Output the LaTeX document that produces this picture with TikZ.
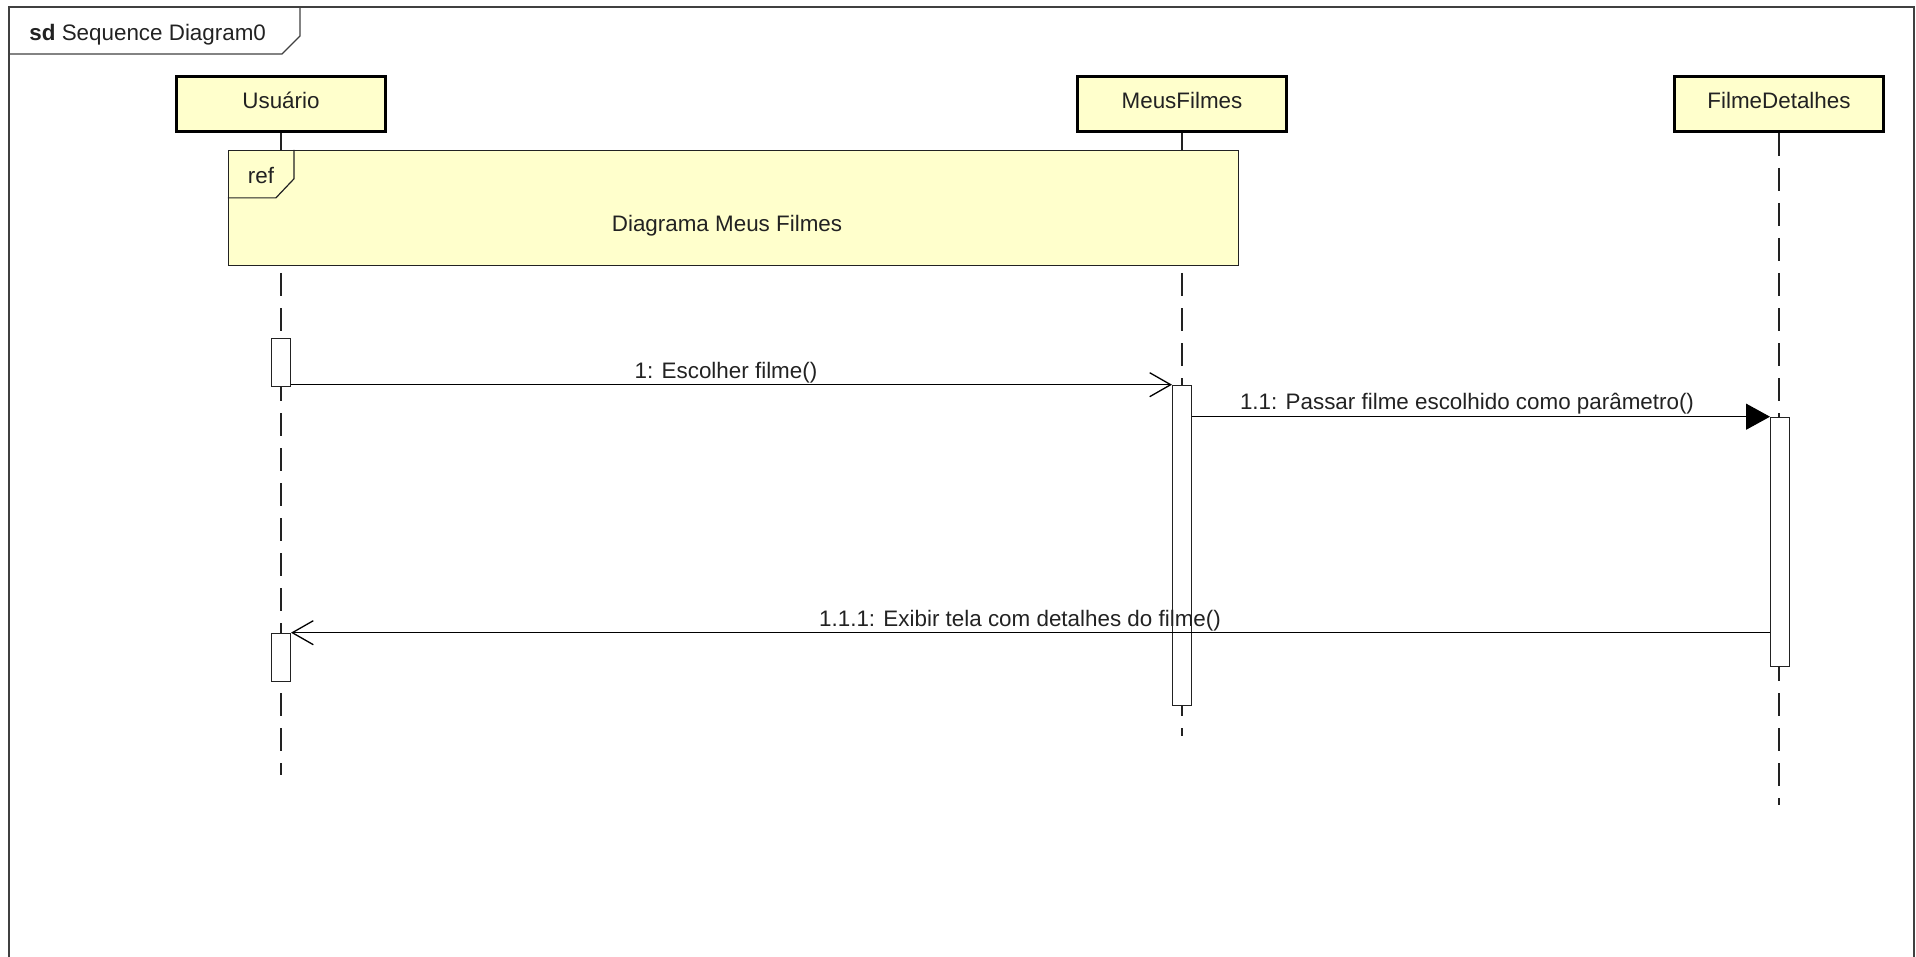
\documentclass[tikz,border=0pt]{standalone}
\usepackage{fontspec}
\setmainfont{Liberation Sans}
\usetikzlibrary{arrows.meta}
\definecolor{umlyellow}{RGB}{255,255,204}
\definecolor{framegray}{RGB}{64,64,64}
\definecolor{txt}{RGB}{34,34,34}
\begin{document}
\begin{tikzpicture}[x=0.5pt,y=-0.5pt,
  font=\fontsize{11.2pt}{13pt}\selectfont,
  head/.style={draw=black, line width=1.6pt, fill=umlyellow, minimum width=104.4pt, minimum height=27.4pt, inner sep=0pt, text height=8pt, text depth=3pt, text=txt},
  refbox/.style={draw=txt, line width=0.6pt, fill=umlyellow, minimum width=505pt, minimum height=57.5pt, inner sep=0pt},
  refline/.style={draw=txt, line width=0.6pt},
  life/.style={draw=txt, line width=0.6pt, dash pattern=on 11.5pt off 6pt},
  act/.style={draw=txt, line width=0.6pt, fill=white, minimum width=9.4pt, inner sep=0pt},
  msg/.style={draw=black, line width=0.65pt},
  openhead/.style={-{Straight Barb[length=10.5pt,width=12pt,line width=0.65pt]}},
  fullhead/.style={-{Triangle[length=12pt,width=13pt]}},
  lbl/.style={inner sep=0pt, text=txt},
  framel/.style={draw=framegray, line width=0.65pt}
]
\useasboundingbox (0,0) rectangle (1916,957);
% frame
\draw[framel] (9,957) -- (9,7) -- (1914,7) -- (1914,957);
\draw[framel] (9,54) -- (282,54) -- (300,36) -- (300,7);
\node[lbl, anchor=base west] (sdl) at (29,41) {\textbf{sd} Sequence Diagram0};
% lifeline heads
\node[head] (u) at (281,104) {Usuário};
\node[head] (m) at (1182,104) {MeusFilmes};
\node[head] (f) at (1779,104) {FilmeDetalhes};
% lifelines
\coordinate (uend) at (281,775);
\coordinate (mend) at (1182,736);
\coordinate (fend) at (1779,805);
\draw[life] (u.south) -- (uend);
\draw[life] (m.south) -- (mend);
\draw[life] (f.south) -- (fend);
% ref
\node[refbox] (ref) at (733.5,208) {};
\draw[refline] (ref.north west) ++(66,0) -- ++(0,29) -- ++(-18,19) -- ++(-48,0);
\node[lbl, anchor=base] (reflbl) at (261,184) {ref};
\node[lbl, anchor=base] (reftitle) at (727,232) {Diagrama Meus Filmes};
% activations
\node[act, minimum height=24.2pt] (a1) at (281,362.5) {};
\node[act, minimum height=160.2pt] (a2) at (1182,545.5) {};
\node[act, minimum height=124.7pt] (a3) at (1780,542) {};
\node[act, minimum height=24.2pt] (a4) at (281,657.5) {};
% messages
\draw[msg, openhead] (a1.east |- a2.north west) -- (a2.north west);
\draw[msg, fullhead] (a2.east |- a3.north west) -- (a3.north west);
\draw[msg, openhead] (a3.west |- a4.north east) -- (a4.north east);
\node[lbl, anchor=base] (l1) at (726,378) {1: Escolher filme()};
\node[lbl, anchor=base] (l2) at (1467,409) {1.1: Passar filme escolhido como parâmetro()};
\node[lbl, anchor=base] (l3) at (1020,626) {1.1.1: Exibir tela com detalhes do filme()};
\end{tikzpicture}
\end{document}
